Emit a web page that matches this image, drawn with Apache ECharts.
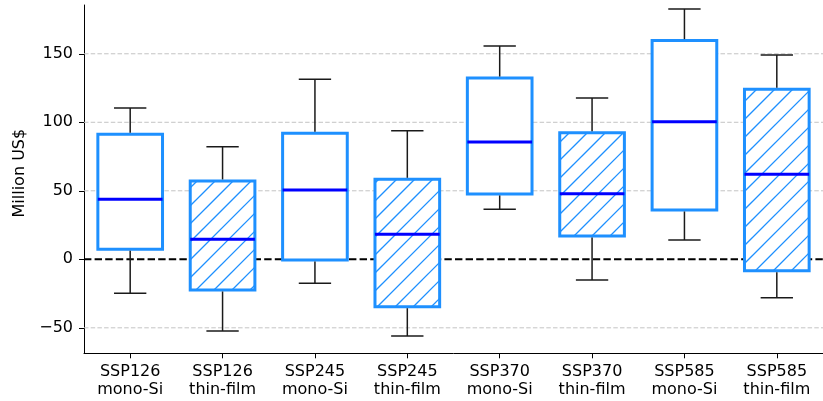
<!DOCTYPE html>
<html>
<head>
<meta charset="utf-8">
<script src="https://cdn.jsdelivr.net/npm/echarts@6/dist/echarts.min.js"></script>
<style>
html,body{margin:0;padding:0;background:#fff;}
#chart{width:823px;height:401px;}
</style>
</head>
<body>
<div id="chart"></div>
<script>
const categories = ['SSP126\nmono-Si','SSP126\nthin-film','SSP245\nmono-Si','SSP245\nthin-film','SSP370\nmono-Si','SSP370\nthin-film','SSP585\nmono-Si','SSP585\nthin-film'];
const whiskerLow  = [-24.8, -52.3, -17.5, -56.0, 36.5, -15.1, 14.1, -28.0];
const q1Values    = [7.3, -22.4, -0.5, -34.6, 47.7, 17.0, 36.0, -8.3];
const medianValues= [43.8, 14.6, 50.6, 18.2, 85.6, 47.9, 100.4, 62.0];
const q3Values    = [91.2, 57.2, 92.0, 58.4, 132.3, 92.4, 159.6, 124.1];
const whiskerHigh = [110.4, 82.2, 131.4, 93.9, 155.7, 117.7, 182.7, 149.1];
const hatched     = [0, 1, 0, 1, 0, 1, 0, 1];
const yTicks      = [-50, 0, 50, 100, 150];
const gridValues  = [-50, 50, 100, 150];
const zeroValue   = [0];

const FONT = 'DejaVu Sans';
const FS = 16;
const BLUE = '#1E90FF';
const MED = '#0000FF';

const boxData = categories.map((c, i) => [i, whiskerLow[i], q1Values[i], medianValues[i], q3Values[i], whiskerHigh[i], hatched[i]]);

function renderBox(params, api) {
  const idx = api.value(0);
  const lo = api.coord([idx, api.value(1)]);
  const q1 = api.coord([idx, api.value(2)]);
  const md = api.coord([idx, api.value(3)]);
  const q3 = api.coord([idx, api.value(4)]);
  const hi = api.coord([idx, api.value(5)]);
  const hat = api.value(6);
  const band = api.size([1, 0])[0];
  const w = band * 0.7;
  const cx = lo[0];
  const x0 = cx - w / 2, x1 = cx + w / 2;
  const y0 = q3[1], y1 = q1[1];
  const capW = w / 2;
  const children = [];
  children.push({type: 'rect', shape: {x: x0, y: y0, width: w, height: y1 - y0}, style: {fill: '#fff', stroke: null}});
  if (hat) {
    const s = 18;
    const kStart = Math.ceil((x0 + y0) / s), kEnd = Math.floor((x1 + y1) / s);
    for (let k = kStart; k <= kEnd; k++) {
      const c = k * s;
      const xa = Math.max(x0, c - y1), xb = Math.min(x1, c - y0);
      if (xb <= xa) continue;
      children.push({type: 'line', shape: {x1: xa, y1: c - xa, x2: xb, y2: c - xb}, style: {stroke: BLUE, lineWidth: 1.3}});
    }
  }
  children.push({type: 'rect', shape: {x: x0, y: y0, width: w, height: y1 - y0}, style: {fill: null, stroke: BLUE, lineWidth: 3}});
  children.push({type: 'line', shape: {x1: x0, y1: md[1], x2: x1, y2: md[1]}, style: {stroke: MED, lineWidth: 3}});
  const wk = {stroke: '#1a1a1a', lineWidth: 1.5};
  children.push({type: 'line', shape: {x1: cx, y1: y0 - 1.5, x2: cx, y2: hi[1]}, style: wk});
  children.push({type: 'line', shape: {x1: cx, y1: y1 + 1.5, x2: cx, y2: lo[1]}, style: wk});
  children.push({type: 'line', shape: {x1: cx - capW / 2, y1: hi[1], x2: cx + capW / 2, y2: hi[1]}, style: wk});
  children.push({type: 'line', shape: {x1: cx - capW / 2, y1: lo[1], x2: cx + capW / 2, y2: lo[1]}, style: wk});
  return {type: 'group', children: children};
}

function renderHLine(style) {
  return function (params, api) {
    const v = api.value(0);
    const p = api.coord([0, v]);
    const cs = params.coordSys;
    return {type: 'line', shape: {x1: cs.x, y1: p[1], x2: cs.x + cs.width, y2: p[1]}, style: style};
  };
}

const chart = echarts.init(document.getElementById('chart'), null, {renderer: 'canvas'});
chart.setOption({
  animation: false,
  backgroundColor: '#fff',
  grid: {left: 84, right: 0, top: 5, bottom: 47.7, containLabel: false},
  xAxis: {
    type: 'category',
    data: categories,
    boundaryGap: true,
    axisLine: {show: true, onZero: false, lineStyle: {color: '#000', width: 1}},
    axisTick: {show: true, alignWithLabel: true, length: 5, lineStyle: {color: '#000', width: 1}},
    axisLabel: {color: '#000', fontFamily: FONT, fontSize: FS, lineHeight: 18, margin: 10, interval: 0},
    splitLine: {show: false}
  },
  yAxis: {
    type: 'value',
    min: -68.6,
    max: 185.6,
    name: 'Million US$',
    nameLocation: 'middle',
    nameGap: 56,
    nameTextStyle: {color: '#000', fontFamily: FONT, fontSize: FS, padding: [0, 0, 0, 12]},
    axisLine: {show: true, lineStyle: {color: '#000', width: 1}},
    axisTick: {show: true, length: 5, customValues: yTicks, lineStyle: {color: '#000', width: 1}},
    axisLabel: {color: '#000', fontFamily: FONT, fontSize: FS, margin: 11, customValues: yTicks,
      formatter: v => v < 0 ? '\u2212' + Math.abs(v) : String(v)},
    splitLine: {show: false}
  },
  series: [
    {
      type: 'custom', z: 1, silent: true, clip: false,
      renderItem: renderHLine({stroke: '#c4c4c4', lineWidth: 1, lineDash: [4.5, 2.2]}),
      encode: {y: 0},
      data: gridValues.map(v => [v])
    },
    {
      type: 'custom', z: 2, silent: true, clip: false,
      renderItem: renderHLine({stroke: '#000', lineWidth: 2, lineDash: [7.4, 3.2]}),
      encode: {y: 0},
      data: zeroValue.map(v => [v])
    },
    {
      type: 'custom', z: 5,
      renderItem: renderBox,
      encode: {x: 0, y: [1, 2, 3, 4, 5]},
      data: boxData
    }
  ]
});
</script>
</body>
</html>
